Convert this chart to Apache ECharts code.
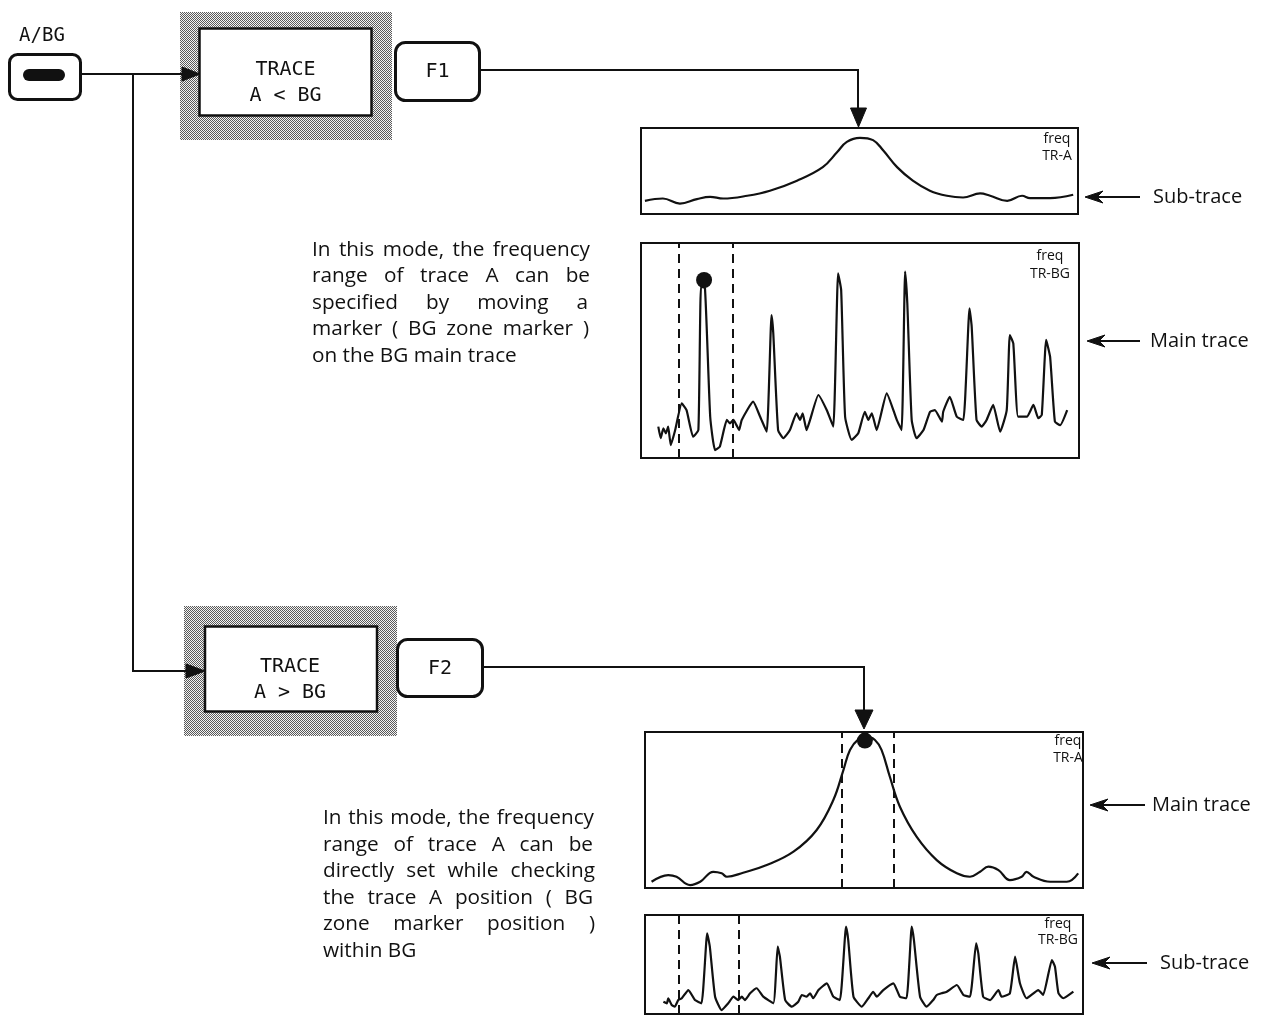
<!DOCTYPE html>
<html><head><meta charset="utf-8">
<script src="https://cdn.jsdelivr.net/npm/echarts@6/dist/echarts.min.js"></script>
<style>html,body{margin:0;padding:0;background:#fff}#c{width:1272px;height:1016px}</style>
</head><body><div id="c"></div>
<script>
// ---------- DATA (freq 0-100 across panel, level 0-100) ----------
const topSubA = [[0.9,15.3],[5.0,18.0],[8.9,12.1],[12.8,17.3],[15.8,20.0],[18.8,18.0],[24.3,21.2],[29.5,27.1],[35.7,38.8],[41.6,54.5],[44.9,72.1],[47.1,83.9],[50.1,88.6],[53.1,85.9],[55.4,74.1],[58.6,54.5],[62.2,38.8],[66.1,27.1],[70.0,21.2],[73.7,19.2],[77.6,23.9],[79.9,21.2],[83.8,15.3],[87.2,21.2],[89.0,18.5],[93.6,18.5],[98.9,22.4]];
const topMainBG = [[3.95,14.6],[4.5,9.2],[5.1,13.8],[5.7,11.5],[6.2,14.6],[6.8,6.0],[7.8,13.0],[9.3,25.4],[10.4,22.3],[11.9,9.9],[13.1,13.0],[13.7,79.7],[14.6,79.1],[15.8,19.2],[16.9,3.7],[18.0,5.3],[19.6,17.7],[20.3,16.1],[21.1,17.7],[21.8,15.3],[22.4,13.0],[23.0,17.7],[25.6,26.2],[27.2,19.2],[28.7,12.2],[29.8,66.5],[30.2,58.1],[31.3,13.0],[32.5,9.2],[34.0,13.0],[35.5,20.8],[36.3,17.7],[36.9,20.8],[37.8,13.0],[38.6,17.7],[40.5,29.3],[42.4,22.3],[43.9,14.6],[45.0,85.9],[45.7,78.1],[46.6,19.2],[48.1,8.4],[49.6,11.5],[51.1,21.5],[51.9,17.7],[52.7,20.8],[53.8,13.0],[56.1,30.1],[58.4,17.7],[59.5,13.0],[60.3,86.7],[60.8,72.0],[61.8,17.7],[62.9,9.2],[64.5,13.0],[66.0,21.5],[67.1,22.3],[68.7,16.9],[69.0,21.5],[70.5,28.5],[72.1,19.2],[73.6,17.7],[75.0,69.6],[75.5,61.1],[76.6,17.7],[77.8,14.6],[78.9,17.7],[80.4,24.7],[82.0,12.2],[83.5,22.3],[84.2,57.2],[85.0,53.3],[86.1,19.2],[88.1,19.2],[89.6,24.7],[90.7,18.5],[91.5,20.0],[92.5,54.9],[93.4,47.1],[94.5,16.9],[95.7,15.3],[97.3,22.3]];
const botMainA = [[1.5,4.0],[5.3,8.3],[7.2,7.2],[10.3,1.9],[12.6,4.0],[15.6,10.4],[17.5,9.4],[18.7,7.2],[22.4,9.8],[27.8,14.7],[33.9,23.3],[39.2,37.2],[43.0,56.4],[45.3,75.6],[46.8,88.5],[48.7,95.3],[50.6,97.0],[52.5,94.9],[54.0,88.5],[55.9,71.3],[58.2,52.1],[62.0,32.9],[66.6,17.9],[71.2,9.4],[74.2,7.2],[76.5,10.4],[78.4,13.7],[80.7,11.5],[83.3,5.1],[86.0,7.2],[87.1,10.4],[88.7,7.2],[92.5,4.0],[96.3,4.0],[98.9,9.4]];
const botSubBG = [[4.2,12.4],[5.0,10.8],[5.3,15.9],[6.1,9.1],[6.8,7.4],[7.6,14.1],[8.4,15.9],[9.9,24.2],[11.4,14.1],[12.9,10.8],[14.2,81.5],[14.8,68.0],[16.0,17.5],[17.5,4.0],[19.0,10.8],[20.2,17.5],[21.3,14.1],[22.1,17.5],[22.8,14.1],[24.0,20.9],[25.5,26.0],[27.0,17.5],[29.3,10.8],[30.3,68.0],[30.8,57.9],[32.0,14.1],[33.5,7.4],[35.0,12.4],[35.8,19.2],[36.9,17.5],[37.7,20.9],[38.4,15.9],[39.6,24.2],[41.5,31.0],[43.0,17.5],[44.5,14.1],[45.9,88.2],[46.4,74.7],[47.6,17.5],[49.5,7.4],[51.0,15.9],[52.1,22.5],[52.9,17.5],[54.4,24.2],[56.7,31.0],[58.2,17.5],[59.7,15.9],[60.9,88.2],[61.4,74.7],[62.8,17.5],[64.3,7.4],[65.8,14.1],[66.6,19.2],[67.7,20.9],[68.9,22.5],[71.2,29.3],[72.7,19.2],[74.2,17.5],[75.6,71.4],[76.1,61.3],[77.2,17.5],[78.8,14.1],[80.7,24.2],[81.4,17.5],[83.3,20.9],[84.5,57.9],[85.6,31.0],[87.1,15.9],[89.8,24.2],[90.9,19.2],[92.9,54.5],[93.6,47.8],[94.4,20.9],[95.5,15.9],[97.8,22.5]];
const topZone = [8.7, 20.9];
const botMainZone = [44.9, 56.8];
const botSubZone = [7.6, 21.3];
const topMarker = [[14.4, 82.8]];
const botMarker = [[50.2, 94.5]];
const panelLabels = [['freq','TR-A'],['freq','TR-BG'],['freq','TR-A'],['freq','TR-BG']];
const sideLabels = ['Sub-trace','Main trace','Main trace','Sub-trace'];
const keyLabel = 'A/BG';
const modeLabels = [['TRACE','A < BG'],['TRACE','A > BG']];
const fnLabels = ['F1','F2'];
const modeText1 = ['In this mode, the frequency','range of trace A can be','specified by moving a','marker ( BG zone marker )','on the BG main trace'];
const modeText2 = ['In this mode, the frequency','range of trace A can be','directly set while checking','the trace A position ( BG','zone marker position )','within BG'];

// ---------- LAYOUT ----------
const INK = '#111';
const MONO = '"DejaVu Sans Mono", monospace';
const SANS = '"Open Sans", sans-serif';
const mctx = document.createElement('canvas').getContext('2d');
function mw(t, s){ mctx.font = s + 'px ' + SANS; return mctx.measureText(t).width; }
const bodySize = Math.min((18*214/mw(modeText1[4],18) + 18*97/mw(modeText2[5],18))/2, 18*266/mw(modeText2[0],18));

const pc = document.createElement('canvas'); pc.width = 2; pc.height = 2;
const pg = pc.getContext('2d');
pg.fillStyle = '#f4f4f4'; pg.fillRect(0,0,2,2);
pg.fillStyle = '#5a5a5a'; pg.fillRect(0,0,1,1); pg.fillRect(1,1,1,1);
const hatch = {image: pc, repeat: 'repeat'};

const grids = [
  {left:641, top:128, width:437, height:86},
  {left:641, top:243, width:438, height:215},
  {left:645, top:732, width:438, height:156},
  {left:645, top:915, width:438, height:99}
];

const G = [];
function txt(t, x, y, size, font, align, weight){
  G.push({type:'text', z:10, x:x, y:y, style:{text:t, fill:INK, font:(weight||'normal')+' '+size+'px '+font, textAlign:align||'left', textVerticalAlign:'middle'}});
}
function line(pts, w){ G.push({type:'polyline', z:5, shape:{points:pts}, style:{stroke:INK, lineWidth:w||2, fill:null}}); }
function poly(pts){ G.push({type:'polygon', z:6, shape:{points:pts}, style:{fill:INK, stroke:INK, lineWidth:1}}); }
function rect(x,y,w,h,r,fill,stroke,lw){ G.push({type:'rect', z:4, shape:{x:x,y:y,width:w,height:h,r:r}, style:{fill:fill, stroke:stroke||null, lineWidth:lw||0}}); }
function para(lines, x, y0, lh, rights){
  lines.forEach(function(ln,i){
    const y = y0 + i*lh;
    const words = ln.split(' ');
    if (i === lines.length-1 || words.length < 2) { txt(ln, x, y, bodySize, SANS); return; }
    const ws = words.map(function(w){ return mw(w, bodySize); });
    const tot = ws.reduce(function(a,b){return a+b;},0);
    const gap = Math.max(mw(' ', bodySize), (rights[i]-x-tot)/(words.length-1));
    let cx = x;
    words.forEach(function(w,j){ txt(w, cx, y, bodySize, SANS); cx += ws[j]+gap; });
  });
}
function leftArrow(tx, ty, len){
  line([[tx+12,ty],[tx+len,ty]], 1.8);
  poly([[tx,ty],[tx+18,ty-6],[tx+12,ty],[tx+18,ty+6]]);
}

// key button
txt(keyLabel, 42, 36, 19, MONO, 'center');
rect(9.5,54.5,71,45,8,'#fff',INK,3);
rect(23,69,42,12,6,INK);
// connectors
line([[81,74],[184,74]]);
poly([[182,67],[200,74],[182,81]]);
line([[133,74],[133,671],[188,671]]);
poly([[186,664],[205,671],[186,678]]);
// mode boxes
rect(180,12,212,128,0,hatch);
rect(199.5,28.5,172,87,0,'#fff',INK,2.5);
txt(modeLabels[0][0], 285.5, 70, 20, MONO, 'center');
txt(modeLabels[0][1], 285.5, 96, 20, MONO, 'center');
rect(184,606,213,130,0,hatch);
rect(205,626.5,172,85,0,'#fff',INK,2.5);
txt(modeLabels[1][0], 290, 667, 20, MONO, 'center');
txt(modeLabels[1][1], 290, 693, 20, MONO, 'center');
// function keys
rect(395.5,42.5,84,58,10,'#fff',INK,3);
txt(fnLabels[0], 437.5, 72, 20, MONO, 'center');
rect(397.5,639.5,85,57,10,'#fff',INK,3);
txt(fnLabels[1], 440, 669, 20, MONO, 'center');
line([[480,70],[858,70],[858,110]]);
poly([[850.5,108],[866.5,108],[858.5,127]]);
line([[483,667],[864,667],[864,712]]);
poly([[855,710],[873,710],[864,729]]);
// panel labels
const labPos = [[1057,139,156],[1050,256,274],[1068,741,758],[1058,924,940]];
labPos.forEach(function(p,i){ txt(panelLabels[i][0], p[0], p[1], 14, SANS, 'center'); txt(panelLabels[i][1], p[0], p[2], 14, SANS, 'center'); });
// side labels
const sidePos = [[1085,197,55,1153],[1087,341,53,1150],[1090,805,55,1152],[1092,963,55,1160]];
sidePos.forEach(function(p,i){ leftArrow(p[0],p[1],p[2]); txt(sideLabels[i], p[3], p[1], 20, SANS); });
// paragraphs
para(modeText1, 312, 250, 26.5, [590,590,588,589]);
para(modeText2, 323, 818, 26.6, [594,593,595,593,595]);

function zoneLine(vals){
  return {silent:true, symbol:['none','none'], label:{show:false}, animation:false,
    lineStyle:{color:INK, type:[9,6], width:2}, data: vals.map(function(v){return {xAxis:v};})};
}
function traceSeries(idx, data, smooth, zone){
  const s = {type:'line', xAxisIndex:idx, yAxisIndex:idx, data:data, showSymbol:false, smooth:smooth,
    lineStyle:{color:INK, width:2.2}, z:3};
  if (zone) s.markLine = zoneLine(zone);
  return s;
}

const option = {
  animation:false,
  backgroundColor:'#fff',
  grid: grids.map(function(g){ return Object.assign({show:true, borderColor:INK, borderWidth:2, backgroundColor:'transparent'}, g); }),
  xAxis: grids.map(function(g,i){ return {type:'value', gridIndex:i, min:0, max:100, show:false}; }),
  yAxis: grids.map(function(g,i){ return {type:'value', gridIndex:i, min:0, max:100, show:false}; }),
  series: [
    traceSeries(0, topSubA, 0.4),
    traceSeries(1, topMainBG, 0.15, topZone),
    traceSeries(2, botMainA, 0.4, botMainZone),
    traceSeries(3, botSubBG, 0.15, botSubZone),
    {type:'scatter', xAxisIndex:1, yAxisIndex:1, data:topMarker, symbolSize:16, itemStyle:{color:INK, opacity:1}, z:4},
    {type:'scatter', xAxisIndex:2, yAxisIndex:2, data:botMarker, symbolSize:16, itemStyle:{color:INK, opacity:1}, z:4}
  ],
  graphic: G
};
const chart = echarts.init(document.getElementById('c'), null, {renderer:'canvas'});
chart.setOption(option);
</script></body></html>
